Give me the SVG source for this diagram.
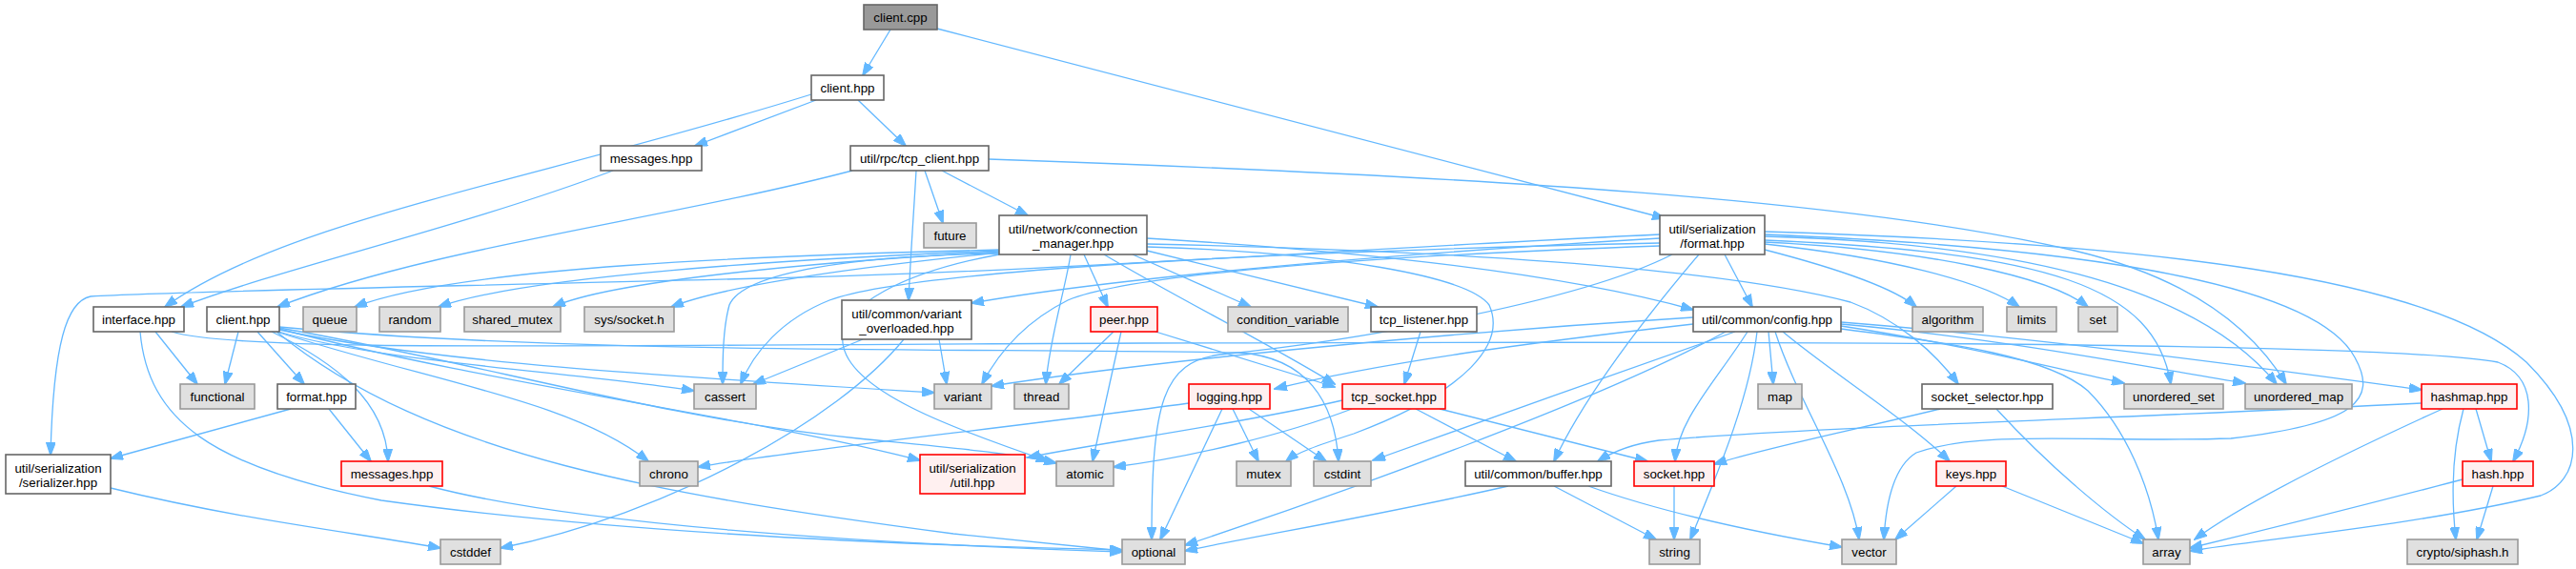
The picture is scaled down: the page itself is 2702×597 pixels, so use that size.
<svg xmlns="http://www.w3.org/2000/svg" width="2702" height="597" viewBox="0 0 2702 597">
<style>
rect{stroke-width:1.6}
.w rect{fill:#ffffff;stroke:#666666}
.g rect{fill:#e0e0e0;stroke:#999999}
.r rect{fill:#fff0f0;stroke:#ff0000}
.root rect{fill:#999999;stroke:#666666}
text{font-family:"Liberation Sans",Arial,sans-serif;font-size:13.33px;text-anchor:middle;fill:#000000}
#edges path{fill:none;stroke:#63b8ff;stroke-width:1.3;marker-end:url(#ah)}
</style>
<defs>
<marker id="ah" viewBox="0 0 14 10" refX="13" refY="5" markerWidth="14" markerHeight="10" markerUnits="userSpaceOnUse" orient="auto">
<path d="M0,0 L14,5 L0,10 z" fill="#63b8ff" stroke="#63b8ff" stroke-width="1"/>
</marker>
</defs>
<rect width="2702" height="597" fill="#ffffff"/>
<g id="edges">
<path d="M934,31 L905,79"/>
<path d="M983,30 L1746,229"/>
<path d="M856,105 L729,153"/>
<path d="M900,105 L950,153"/>
<path d="M851,99 C560,190 300,230 173,322"/>
<path d="M643,179 C480,240 300,280 190,322"/>
<path d="M894,179 C700,230 450,260 291,322"/>
<path d="M970,179 L989,234"/>
<path d="M988,179 L1078,226"/>
<path d="M961,179 C958,230 955,270 953,315"/>
<path d="M1037,167 C1560,185 1950,210 2176,263 C2290,290 2360,340 2398,403"/>
<path d="M1851,248 C2100,255 2300,295 2388,403"/>
<path d="M1851,262 C1940,285 1990,305 2010,322"/>
<path d="M1851,256 C1980,270 2080,295 2118,322"/>
<path d="M1851,254 C2020,262 2150,290 2190,322"/>
<path d="M1851,252 C2150,265 2260,300 2277,403"/>
<path d="M1851,246 C2200,260 2430,300 2470,375 C2495,420 2470,445 2340,460 C2200,465 2080,450 2010,475 C1985,490 1978,530 1976,566"/>
<path d="M1851,243 C2250,255 2550,290 2650,380 C2720,450 2705,505 2665,520 C2540,550 2380,565 2297,578"/>
<path d="M1741,246 C1400,262 1100,285 800,292 C500,300 200,305 95,311 C70,316 56,360 53,477"/>
<path d="M1741,250 C1400,270 1150,295 1019,318"/>
<path d="M1741,255 C1300,265 950,285 870,315 C820,335 790,370 777,403"/>
<path d="M1741,258 C1400,270 1180,290 1120,315 C1080,335 1050,365 1030,403"/>
<path d="M1809,267 L1838,322"/>
<path d="M1782,267 C1720,340 1660,420 1630,484"/>
<path d="M1754,267 C1650,320 1400,360 1280,372 C1220,380 1208,420 1208,566"/>
<path d="M1048,262 C800,268 480,280 372,322"/>
<path d="M1048,263 C820,272 550,290 460,322"/>
<path d="M1048,264 C850,275 640,295 580,322"/>
<path d="M1048,265 C900,280 760,300 704,322"/>
<path d="M1048,266 C900,268 780,285 765,320 C758,345 758,380 758,403"/>
<path d="M1048,267 C950,285 880,320 884,360 C890,410 1000,450 1100,484"/>
<path d="M1137,267 L1162,322"/>
<path d="M1188,267 L1312,322"/>
<path d="M1203,263 L1445,322"/>
<path d="M1203,250 C1450,265 1650,290 1776,325"/>
<path d="M1123,267 C1118,300 1100,360 1097,403"/>
<path d="M1158,267 C1230,310 1330,360 1400,403"/>
<path d="M1203,256 C1500,262 1800,280 1941,317 C1990,335 2030,370 2054,403"/>
<path d="M1203,259 C1400,265 1540,290 1562,320 C1580,360 1540,410 1420,455 C1380,468 1360,475 1349,484"/>
<path d="M905,356 L790,403"/>
<path d="M985,356 L993,403"/>
<path d="M948,356 C880,440 700,540 525,575"/>
<path d="M163,348 L207,403"/>
<path d="M147,348 C155,440 220,490 400,525 C650,560 950,572 1177,577"/>
<path d="M180,348 C250,370 600,362 1200,360 C1800,358 2500,358 2620,380 C2660,395 2660,440 2636,484"/>
<path d="M250,348 L236,403"/>
<path d="M270,348 L319,403"/>
<path d="M285,348 C350,380 405,420 407,484"/>
<path d="M290,348 C450,400 600,420 680,484"/>
<path d="M292,348 C400,380 600,390 728,410"/>
<path d="M293,346 C450,380 700,395 980,412"/>
<path d="M293,345 C500,400 800,440 965,483"/>
<path d="M293,344 C500,380 700,440 900,460 C1000,470 1060,475 1108,486"/>
<path d="M290,348 C450,480 700,520 1000,560 C1100,570 1150,575 1177,578"/>
<path d="M293,343 C600,372 1000,365 1300,370 C1370,375 1400,420 1404,484"/>
<path d="M305,429 L116,481"/>
<path d="M345,429 L389,484"/>
<path d="M116,512 C250,545 380,560 462,575"/>
<path d="M450,510 C600,550 900,570 1177,579"/>
<path d="M1168,348 L1111,403"/>
<path d="M1176,348 L1146,484"/>
<path d="M1212,348 L1400,406"/>
<path d="M1490,348 L1473,403"/>
<path d="M1408,420 C1300,445 1150,465 1078,480"/>
<path d="M1418,429 C1350,455 1250,480 1168,490"/>
<path d="M1485,429 L1590,484"/>
<path d="M1510,429 L1728,484"/>
<path d="M1247,423 C1050,450 850,470 732,490"/>
<path d="M1293,429 L1320,484"/>
<path d="M1310,429 L1391,484"/>
<path d="M1282,429 L1217,566"/>
<path d="M1776,333 C1500,350 1200,380 1040,405"/>
<path d="M1776,340 C1600,360 1450,380 1337,408"/>
<path d="M1810,348 C1680,420 1400,520 1243,572"/>
<path d="M1820,348 C1700,390 1560,440 1440,483"/>
<path d="M1833,348 C1800,400 1760,440 1757,484"/>
<path d="M1843,348 C1835,420 1800,500 1773,566"/>
<path d="M1855,348 L1860,403"/>
<path d="M1862,348 C1885,420 1940,500 1950,566"/>
<path d="M1870,348 C1920,390 2000,440 2045,484"/>
<path d="M1931,342 C2050,360 2150,385 2228,402"/>
<path d="M1931,340 C2100,355 2250,385 2355,402"/>
<path d="M1931,338 C2150,355 2400,390 2540,409"/>
<path d="M1931,345 C2050,360 2150,375 2190,410 C2230,450 2255,510 2264,566"/>
<path d="M2035,429 C1950,450 1850,470 1798,487"/>
<path d="M2094,429 C2150,490 2210,540 2250,566"/>
<path d="M2540,423 C2200,440 1900,448 1740,462 C1710,466 1690,475 1676,484"/>
<path d="M2562,429 C2450,480 2350,530 2302,566"/>
<path d="M2597,429 L2613,484"/>
<path d="M2584,429 C2570,480 2572,530 2576,566"/>
<path d="M2583,503 C2480,530 2380,555 2297,575"/>
<path d="M2615,510 L2598,566"/>
<path d="M2052,510 L1988,566"/>
<path d="M2100,510 L2248,570"/>
<path d="M1582,510 C1450,540 1330,560 1243,578"/>
<path d="M1630,510 L1737,566"/>
<path d="M1666,510 C1750,540 1850,560 1932,574"/>
<path d="M1756,510 L1756,566"/>
</g>
<g id="n_client_cpp" class="root"><rect x="906" y="5" width="77" height="26"/><text x="944.5" y="22.7">client.cpp</text></g>
<g id="n_client_hpp" class="w"><rect x="851" y="79" width="76" height="26"/><text x="889" y="96.7">client.hpp</text></g>
<g id="n_messages_hpp" class="w"><rect x="630" y="153" width="106" height="26"/><text x="683" y="170.7">messages.hpp</text></g>
<g id="n_tcp_client" class="w"><rect x="892" y="153" width="145" height="26"/><text x="964.5" y="170.7">util/rpc/tcp_client.hpp</text></g>
<g id="n_future" class="g"><rect x="969" y="234" width="55" height="26"/><text x="996.5" y="251.7">future</text></g>
<g id="n_connection_manager" class="w"><rect x="1048" y="226" width="155" height="41"/><text x="1125.5" y="244.7">util/network/connection</text><text x="1125.5" y="259.7">_manager.hpp</text></g>
<g id="n_format" class="w"><rect x="1741" y="226" width="110" height="41"/><text x="1796" y="244.7">util/serialization</text><text x="1796" y="259.7">/format.hpp</text></g>
<g id="n_interface" class="w"><rect x="98" y="322" width="95" height="26"/><text x="145.5" y="339.7">interface.hpp</text></g>
<g id="n_client_hpp2" class="w"><rect x="217" y="322" width="76" height="26"/><text x="255" y="339.7">client.hpp</text></g>
<g id="n_queue" class="g"><rect x="318" y="322" width="56" height="26"/><text x="346" y="339.7">queue</text></g>
<g id="n_random" class="g"><rect x="398" y="322" width="64" height="26"/><text x="430" y="339.7">random</text></g>
<g id="n_shared_mutex" class="g"><rect x="487" y="322" width="101" height="26"/><text x="537.5" y="339.7">shared_mutex</text></g>
<g id="n_sys_socket" class="g"><rect x="613" y="322" width="94" height="26"/><text x="660" y="339.7">sys/socket.h</text></g>
<g id="n_variant_overloaded" class="w"><rect x="883" y="315" width="136" height="41"/><text x="951" y="333.7">util/common/variant</text><text x="951" y="348.7">_overloaded.hpp</text></g>
<g id="n_peer" class="r"><rect x="1144" y="322" width="70" height="26"/><text x="1179" y="339.7">peer.hpp</text></g>
<g id="n_condition_variable" class="g"><rect x="1288" y="322" width="126" height="26"/><text x="1351" y="339.7">condition_variable</text></g>
<g id="n_tcp_listener" class="w"><rect x="1438" y="322" width="111" height="26"/><text x="1493.5" y="339.7">tcp_listener.hpp</text></g>
<g id="n_config" class="w"><rect x="1776" y="322" width="155" height="26"/><text x="1853.5" y="339.7">util/common/config.hpp</text></g>
<g id="n_algorithm" class="g"><rect x="2006" y="322" width="74" height="26"/><text x="2043" y="339.7">algorithm</text></g>
<g id="n_limits" class="g"><rect x="2105" y="322" width="52" height="26"/><text x="2131" y="339.7">limits</text></g>
<g id="n_set" class="g"><rect x="2180" y="322" width="41" height="26"/><text x="2200.5" y="339.7">set</text></g>
<g id="n_functional" class="g"><rect x="189" y="403" width="78" height="26"/><text x="228" y="420.7">functional</text></g>
<g id="n_format_hpp" class="w"><rect x="291" y="403" width="82" height="26"/><text x="332" y="420.7">format.hpp</text></g>
<g id="n_cassert" class="g"><rect x="728" y="403" width="65" height="26"/><text x="760.5" y="420.7">cassert</text></g>
<g id="n_variant" class="g"><rect x="980" y="403" width="60" height="26"/><text x="1010" y="420.7">variant</text></g>
<g id="n_thread" class="g"><rect x="1064" y="403" width="57" height="26"/><text x="1092.5" y="420.7">thread</text></g>
<g id="n_logging" class="r"><rect x="1247" y="403" width="85" height="26"/><text x="1289.5" y="420.7">logging.hpp</text></g>
<g id="n_tcp_socket" class="r"><rect x="1408" y="403" width="108" height="26"/><text x="1462" y="420.7">tcp_socket.hpp</text></g>
<g id="n_map" class="g"><rect x="1844" y="403" width="46" height="26"/><text x="1867" y="420.7">map</text></g>
<g id="n_socket_selector" class="w"><rect x="2016" y="403" width="137" height="26"/><text x="2084.5" y="420.7">socket_selector.hpp</text></g>
<g id="n_unordered_set" class="g"><rect x="2228" y="403" width="104" height="26"/><text x="2280" y="420.7">unordered_set</text></g>
<g id="n_unordered_map" class="g"><rect x="2355" y="403" width="112" height="26"/><text x="2411" y="420.7">unordered_map</text></g>
<g id="n_hashmap" class="r"><rect x="2540" y="403" width="100" height="26"/><text x="2590" y="420.7">hashmap.hpp</text></g>
<g id="n_serializer" class="w"><rect x="6" y="477" width="110" height="41"/><text x="61" y="495.7">util/serialization</text><text x="61" y="510.7">/serializer.hpp</text></g>
<g id="n_messages_red" class="r"><rect x="358" y="484" width="106" height="26"/><text x="411" y="501.7">messages.hpp</text></g>
<g id="n_chrono" class="g"><rect x="671" y="484" width="61" height="26"/><text x="701.5" y="501.7">chrono</text></g>
<g id="n_ser_util" class="r"><rect x="965" y="477" width="110" height="41"/><text x="1020" y="495.7">util/serialization</text><text x="1020" y="510.7">/util.hpp</text></g>
<g id="n_atomic" class="g"><rect x="1108" y="484" width="60" height="26"/><text x="1138" y="501.7">atomic</text></g>
<g id="n_mutex" class="g"><rect x="1297" y="484" width="57" height="26"/><text x="1325.5" y="501.7">mutex</text></g>
<g id="n_cstdint" class="g"><rect x="1378" y="484" width="60" height="26"/><text x="1408" y="501.7">cstdint</text></g>
<g id="n_buffer" class="w"><rect x="1537" y="484" width="153" height="26"/><text x="1613.5" y="501.7">util/common/buffer.hpp</text></g>
<g id="n_socket" class="r"><rect x="1714" y="484" width="84" height="26"/><text x="1756" y="501.7">socket.hpp</text></g>
<g id="n_keys" class="r"><rect x="2031" y="484" width="73" height="26"/><text x="2067.5" y="501.7">keys.hpp</text></g>
<g id="n_hash" class="r"><rect x="2583" y="484" width="74" height="26"/><text x="2620" y="501.7">hash.hpp</text></g>
<g id="n_cstddef" class="g"><rect x="462" y="566" width="63" height="26"/><text x="493.5" y="583.7">cstddef</text></g>
<g id="n_optional" class="g"><rect x="1177" y="566" width="66" height="26"/><text x="1210" y="583.7">optional</text></g>
<g id="n_string" class="g"><rect x="1730" y="566" width="53" height="26"/><text x="1756.5" y="583.7">string</text></g>
<g id="n_vector" class="g"><rect x="1932" y="566" width="57" height="26"/><text x="1960.5" y="583.7">vector</text></g>
<g id="n_array" class="g"><rect x="2248" y="566" width="49" height="26"/><text x="2272.5" y="583.7">array</text></g>
<g id="n_siphash" class="g"><rect x="2525" y="566" width="116" height="26"/><text x="2583" y="583.7">crypto/siphash.h</text></g>
</svg>
